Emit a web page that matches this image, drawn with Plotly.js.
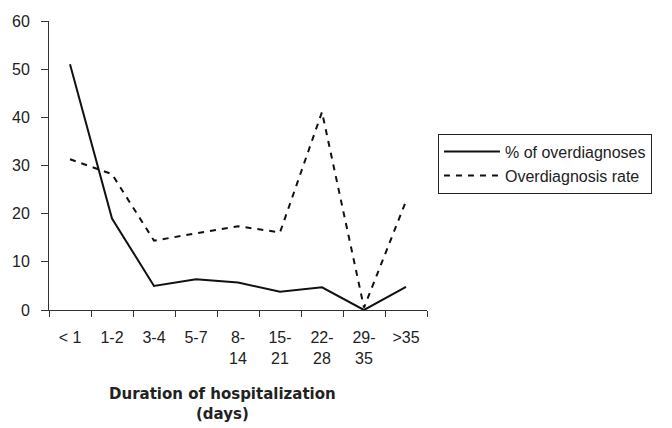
<!DOCTYPE html>
<html><head><meta charset="utf-8">
<script src="https://cdn.plot.ly/plotly-3.0.1.min.js"></script>
<style>html,body{margin:0;padding:0;background:#fff}#c{width:672px;height:428px}</style>
</head><body><div id="c"></div>
<script>
const categories = ["< 1","1-2","3-4","5-7","8-<br>14","15-<br>21","22-<br>28","29-<br>35",">35"];
const pctOverdiagnoses = [51, 19, 5, 6.4, 5.7, 3.8, 4.7, 0, 4.8];
const overdiagnosisRate = [31.3, 28.2, 14.4, 15.9, 17.4, 16.1, 41.1, 0.5, 22.6];
const yTicks = [0,10,20,30,40,50,60];
const xTitle = '<b>Duration of hospitalization<br>(days)</b>';

const traces = [
  {x: categories, y: pctOverdiagnoses, type:'scatter', mode:'lines', name:'% of overdiagnoses',
   line:{color:'#111', width:2}},
  {x: categories, y: overdiagnosisRate, type:'scatter', mode:'lines', name:'Overdiagnosis rate',
   line:{color:'#111', width:2, dash:'6px,6px'}}
];
const layout = {
  width:672, height:428,
  margin:{l:49, r:245, t:21, b:118},
  paper_bgcolor:'#fff', plot_bgcolor:'#fff',
  font:{family:'"Liberation Sans", Arial, sans-serif', size:15, color:'#222'},
  showlegend:true,
  legend:{x:1.029, y:0.61, xanchor:'left', yanchor:'top', bordercolor:'#222', borderwidth:1,
          bgcolor:'#fff', font:{size:16}, itemwidth:56, tracegroupgap:0},
  xaxis:{type:'category', range:[-0.5,8.5], tickson:'boundaries', ticks:'outside', ticklen:6,
         tickcolor:'#333', showline:true, linecolor:'#333', linewidth:1, showgrid:false, zeroline:false,
         tickangle:0, fixedrange:true, ticklabelstandoff:13, tickfont:{size:16}},
  yaxis:{range:[0,60], tickvals:yTicks, ticks:'outside', ticklen:7, tickcolor:'#333', showline:true,
         linecolor:'#333', linewidth:1, showgrid:false, zeroline:false, fixedrange:true,
         ticklabelstandoff:8, tickfont:{size:16}},
  annotations:[{text:xTitle, xref:'paper', yref:'paper', x:(222-49)/378, y:-(383-310)/289,
                xanchor:'center', yanchor:'top', showarrow:false,
                font:{family:'"DejaVu Sans", sans-serif', size:15, color:'#222'}}]
};
Plotly.newPlot('c', traces, layout, {staticPlot:true});
</script></body></html>
